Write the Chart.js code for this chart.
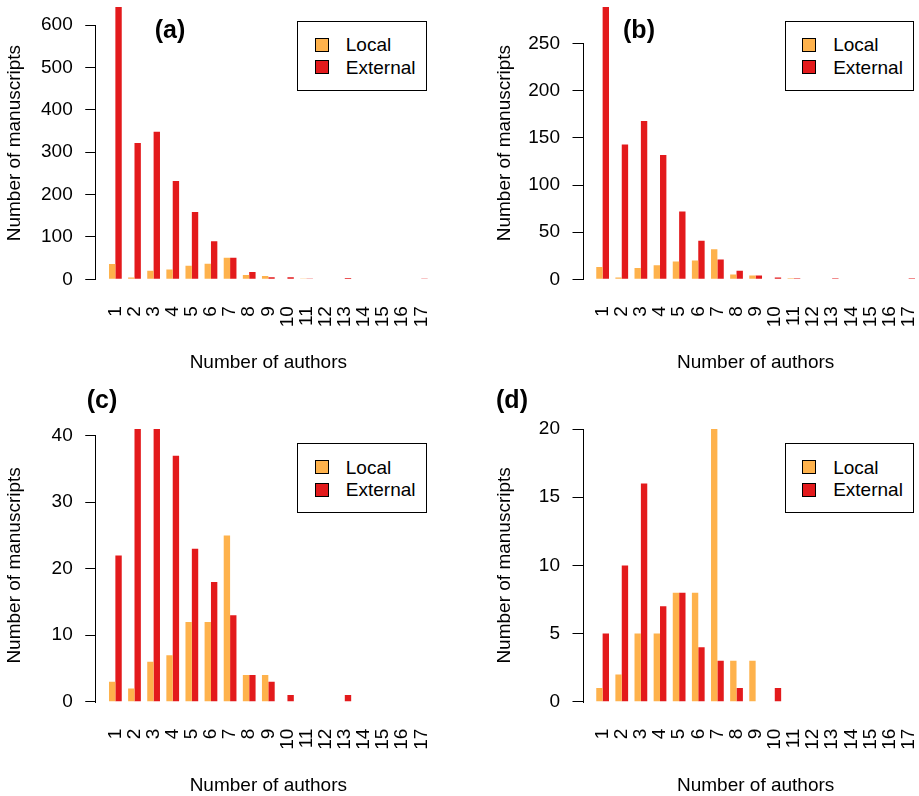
<!DOCTYPE html>
<html>
<head>
<meta charset="utf-8">
<script src="https://cdn.jsdelivr.net/npm/chart.js@4.4.1/dist/chart.umd.min.js"></script>
<style>
html, body { margin: 0; padding: 0; background: #fff; overflow: hidden; width: 919px; height: 796px; position: relative; }
.panel { position: absolute; }
canvas { display: block; }
.tag { position: absolute; font: bold 25px 'Liberation Sans', Arial, sans-serif; line-height: 1; transform: translateX(-50%); color: #000; white-space: nowrap; }
.key { position: absolute; width: 129.4px; height: 70px; box-sizing: border-box; border: 1px solid #000; background: #fff; }
.row { position: absolute; left: 16.7px; height: 22px; display: flex; align-items: center; font: 19px 'Liberation Sans', Arial, sans-serif; line-height: 1; color: #000; white-space: nowrap; }
.sw { width: 14px; height: 14px; box-sizing: border-box; border: 1px solid #000; margin-right: 16.8px; flex: none; }
</style>
</head>
<body>
<div class="panel" style="left:0;top:-10px"><canvas id="chartA" width="459" height="390"></canvas></div>
<div class="panel" style="left:490px;top:-10px"><canvas id="chartB" width="457" height="390"></canvas></div>
<div class="panel" style="left:0;top:400px"><canvas id="chartC" width="459" height="400"></canvas></div>
<div class="panel" style="left:490px;top:400px"><canvas id="chartD" width="457" height="400"></canvas></div>
<div class="tag" style="left:170px;top:17px">(a)</div>
<div class="tag" style="left:639px;top:17px">(b)</div>
<div class="tag" style="left:102px;top:387px">(c)</div>
<div class="tag" style="left:512px;top:387px">(d)</div>
<script>
// número de autores (categorías del eje x)
const authors = [1, 2, 3, 4, 5, 6, 7, 8, 9, 10, 11, 12, 13, 14, 15, 16, 17];
const seriesNames = ['Local', 'External'];
const seriesColors = ['#FEB24C', '#E31A1C'];

// panel (a)
const localA = [36, 4, 20, 23, 32, 37, 51, 10, 8, 0, 1, 0, 0, 0, 0, 0, 0];
const externalA = [643, 322, 348, 232, 159, 90, 51, 17, 5, 5, 1, 0, 3, 0, 0, 0, 1];
const ticksA = [0, 100, 200, 300, 400, 500, 600];

// panel (b)
const localB = [13, 2, 12, 15, 19, 20, 32, 5, 4, 0, 1, 0, 0, 0, 0, 0, 0];
const externalB = [289, 143, 168, 132, 72, 41, 21, 9, 4, 2, 1, 0, 1, 0, 0, 0, 1];
const ticksB = [0, 50, 100, 150, 200, 250];

// panel (c)
const localC = [3, 2, 6, 7, 12, 12, 25, 4, 4, 0, 0, 0, 0, 0, 0, 0, 0];
const externalC = [22, 41, 41, 37, 23, 18, 13, 4, 3, 1, 0, 0, 1, 0, 0, 0, 0];
const ticksC = [0, 10, 20, 30, 40];

// panel (d)
const localD = [1, 2, 5, 5, 8, 8, 20, 3, 3, 0, 0, 0, 0, 0, 0, 0, 0];
const externalD = [5, 10, 16, 7, 8, 4, 3, 1, 0, 1, 0, 0, 0, 0, 0, 0, 0];
const ticksD = [0, 5, 10, 15, 20];

Chart.defaults.font.family = "'Liberation Sans', Arial, sans-serif";
Chart.defaults.color = '#000';

// línea del eje y solo entre el primer y el último tick (estilo R)
const axisLine = {
    id: 'axisLine',
    afterDraw(chart) {
        const y = chart.scales.y;
        const ctx = chart.ctx;
        const vals = y.ticks.map(t => t.value);
        const x = Math.round(chart.chartArea.left) - 0.5;
        const y1 = Math.round(y.getPixelForValue(Math.max(...vals)));
        const y2 = Math.round(y.getPixelForValue(Math.min(...vals))) + 1;
        ctx.save();
        ctx.strokeStyle = '#000';
        ctx.lineWidth = 1;
        ctx.beginPath();
        ctx.moveTo(x, y1);
        ctx.lineTo(x, y2);
        ctx.stroke();
        ctx.restore();
    }
};

// leyenda en HTML con caja, arriba a la derecha del área del gráfico
const htmlKey = {
    id: 'htmlKey',
    afterRender(chart) {
        const box = chart.canvas.parentNode;
        if (box.querySelector('.key')) return;
        const items = chart.options.plugins.legend.labels.generateLabels(chart);
        const key = document.createElement('div');
        key.className = 'key';
        key.style.left = (chart.chartArea.right - 143.1) + 'px';
        key.style.top = (chart.chartArea.top + 24.7) + 'px';
        items.forEach((it, i) => {
            const row = document.createElement('div');
            row.className = 'row';
            row.style.top = (12.3 + i * 22.5) + 'px';
            const sw = document.createElement('span');
            sw.className = 'sw';
            sw.style.background = it.fillStyle;
            const tx = document.createElement('span');
            tx.textContent = it.text;
            row.append(sw, tx);
            key.appendChild(row);
        });
        box.appendChild(key);
    }
};

// sin márgenes extra que muevan el área del gráfico
function noPadding(s) {
    s.paddingTop = 0;
    s.paddingBottom = 0;
    s.paddingLeft = 0;
    s.paddingRight = 0;
}

function makePanel(canvasId, local, external, yTicks, g) {
    const top = Math.max(...local, ...external);
    const pad = top * 0.04;
    return new Chart(document.getElementById(canvasId), {
        type: 'bar',
        data: {
            labels: authors,
            datasets: [
                { label: seriesNames[0], data: local, backgroundColor: seriesColors[0], borderWidth: 0, categoryPercentage: 2 / 3, barPercentage: 1 },
                { label: seriesNames[1], data: external, backgroundColor: seriesColors[1], borderWidth: 0, categoryPercentage: 2 / 3, barPercentage: 1 }
            ]
        },
        options: {
            responsive: false,
            animation: false,
            events: [],
            layout: { padding: { left: 0, right: g.right, top: g.top, bottom: g.bottom } },
            plugins: { legend: { display: false }, tooltip: { enabled: false } },
            scales: {
                x: {
                    type: 'linear',
                    min: 0,
                    max: authors.length + 1,
                    offset: false,
                    grid: { display: false, drawTicks: false, offset: false },
                    border: { display: false },
                    ticks: { autoSkip: false, minRotation: 90, maxRotation: 90, padding: 16, font: { size: 19 } },
                    title: { display: true, text: 'Number of authors', font: { size: 19 }, padding: 0 },
                    afterBuildTicks: s => { s.ticks = authors.map(v => ({ value: v })); },
                    afterFit: s => { s.height = 84.4; noPadding(s); }
                },
                y: {
                    min: -pad,
                    max: top + pad,
                    grid: { drawOnChartArea: false, drawTicks: true, tickLength: 11, color: '#000', lineWidth: 1 },
                    border: { display: false },
                    ticks: { padding: 12.5, font: { size: 19 } },
                    title: { display: true, text: 'Number of manuscripts', font: { size: 19 }, padding: { top: 2.9, bottom: 0 } },
                    afterBuildTicks: s => { s.ticks = yTicks.map(v => ({ value: v })); },
                    afterFit: s => { s.width = g.yWidth; noPadding(s); }
                }
            }
        },
        plugins: [axisLine, htmlKey]
    });
}

makePanel('chartA', localA, externalA, ticksA, { yWidth: 96.25, right: 18.6, top: 6, bottom: 5.4 });
makePanel('chartB', localB, externalB, ticksB, { yWidth: 93.5, right: 19.2, top: 6, bottom: 5.4 });
makePanel('chartC', localC, externalC, ticksC, { yWidth: 96.25, right: 18.6, top: 18.2, bottom: 3 });
makePanel('chartD', localD, externalD, ticksD, { yWidth: 93.5, right: 19.2, top: 18.2, bottom: 3 });
</script>
</body>
</html>
